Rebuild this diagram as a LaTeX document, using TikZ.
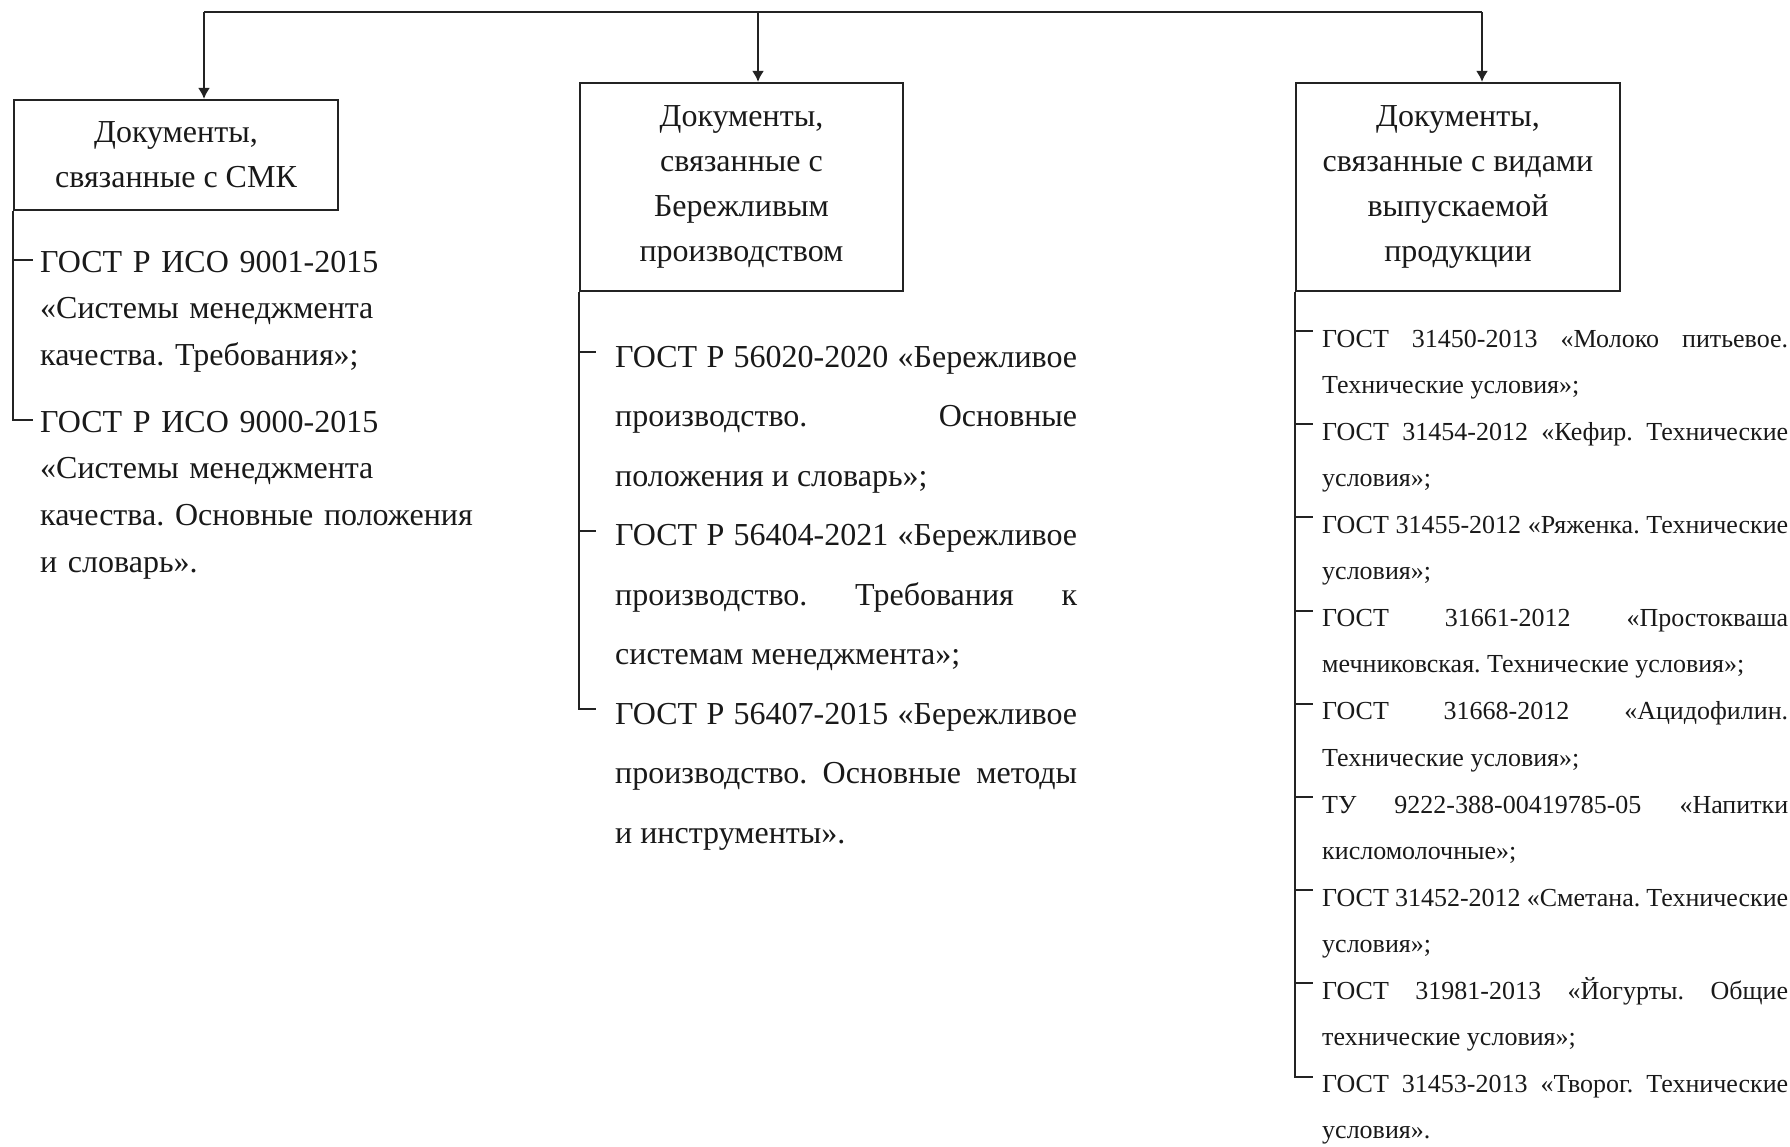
\documentclass[tikz,border=0pt]{standalone}
\usepackage{fontspec}
\setmainfont{Liberation Serif}
\usetikzlibrary{arrows.meta}
\definecolor{lineDark}{RGB}{35,35,35}
\definecolor{textDark}{RGB}{25,25,25}
\frenchspacing

\begin{document}
\begin{tikzpicture}[x=1pt, y=-1pt,
    headBox/.style={draw=lineDark, line width=2.2pt, inner sep=0pt, align=center,
      text=textDark, font=\fontsize{32}{45}\selectfont},
    listItem/.style={anchor=base west, inner sep=0pt, text=textDark},
    smkItem/.style={listItem, text width=470pt, align=left, font=\fontsize{32}{46.8}\selectfont},
    leanItem/.style={listItem, text width=462pt, align=justify, font=\fontsize{32}{59.5}\selectfont},
    prodItem/.style={listItem, text width=466pt, align=justify, font=\fontsize{26}{46.2}\selectfont},
    link/.style={draw=lineDark, line width=2pt},
    feed/.style={link, -{Latex[length=11pt, width=12pt]}}]
  \useasboundingbox (0,0) rectangle (1790,1146);

  \node[headBox, minimum width=324pt, minimum height=110pt] (smkBox) at (176,155) {Документы,\\связанные с СМК};
  \node[headBox, minimum width=323pt, minimum height=208pt] (leanBox) at (741.5,187) {Документы,\\связанные с\\Бережливым\\производством};
  \node[headBox, minimum width=324pt, minimum height=208pt] (prodBox) at (1458,187) {Документы,\\связанные с видами\\выпускаемой\\продукции};

  \coordinate (busSmk) at (204,12);
  \coordinate (busLean) at (758,12);
  \coordinate (busProd) at (1482,12);
  \draw[link] (busSmk) -- (busProd);
  \draw[feed] (busSmk) -- (busSmk |- smkBox.north);
  \draw[feed] (busLean) -- (busLean |- leanBox.north);
  \draw[feed] (busProd) -- (busProd |- prodBox.north);

  \node[smkItem] (smk1) at (40,272) {ГОСТ Р ИСО 9001-2015\\«Системы менеджмента\\качества. Требования»;};
  \node[smkItem] (smk2) at (40,432) {ГОСТ Р ИСО 9000-2015\\«Системы менеджмента\\качества. Основные положения\\и словарь».};

  \node[leanItem] (lean1) at (615,367) {ГОСТ Р 56020-2020 «Бережливое\linebreak производство. Основные\linebreak положения и словарь»;};
  \node[leanItem] (lean2) at (615,545.5) {ГОСТ Р 56404-2021 «Бережливое\linebreak производство. Требования к\linebreak системам менеджмента»;};
  \node[leanItem] (lean3) at (615,724) {ГОСТ Р 56407-2015 «Бережливое\linebreak производство. Основные методы\linebreak и инструменты».};

  \node[prodItem] (prod1) at (1322,347) {ГОСТ 31450-2013 «Молоко питьевое.\linebreak Технические условия»;};
  \node[prodItem] (prod2) at (1322,440.2) {ГОСТ 31454-2012 «Кефир. Технические\linebreak условия»;};
  \node[prodItem] (prod3) at (1322,533.4) {ГОСТ 31455-2012 «Ряженка. Технические\linebreak условия»;};
  \node[prodItem] (prod4) at (1322,626.6) {ГОСТ 31661-2012 «Простокваша\linebreak мечниковская. Технические условия»;};
  \node[prodItem] (prod5) at (1322,719.8) {ГОСТ 31668-2012 «Ацидофилин.\linebreak Технические условия»;};
  \node[prodItem] (prod6) at (1322,813) {ТУ 9222-388-00419785-05 «Напитки\linebreak кисломолочные»;};
  \node[prodItem] (prod7) at (1322,906.2) {ГОСТ 31452-2012 «Сметана. Технические\linebreak условия»;};
  \node[prodItem] (prod8) at (1322,999.4) {ГОСТ 31981-2013 «Йогурты. Общие\linebreak технические условия»;};
  \node[prodItem] (prod9) at (1322,1092.6) {ГОСТ 31453-2013 «Творог. Технические\linebreak условия».};

  \foreach \i in {1,2} \coordinate (smk\i Tick) at ([xshift=-7pt, yshift=12pt]smk\i.base west);
  \foreach \i in {1,2,3} \coordinate (lean\i Tick) at ([xshift=-19pt, yshift=15pt]lean\i.base west);
  \foreach \i in {1,...,9} \coordinate (prod\i Tick) at ([xshift=-9pt, yshift=16pt]prod\i.base west);

  \draw[link] (smkBox.south west |- smk1Tick) -- (smk1Tick);
  \draw[link] (smkBox.south west) |- (smk2Tick);
  \foreach \i in {1,2} \draw[link] (leanBox.south west |- lean\i Tick) -- (lean\i Tick);
  \draw[link] (leanBox.south west) |- (lean3Tick);
  \foreach \i in {1,...,8} \draw[link] (prodBox.south west |- prod\i Tick) -- (prod\i Tick);
  \draw[link] (prodBox.south west) |- (prod9Tick);
\end{tikzpicture}
\end{document}
